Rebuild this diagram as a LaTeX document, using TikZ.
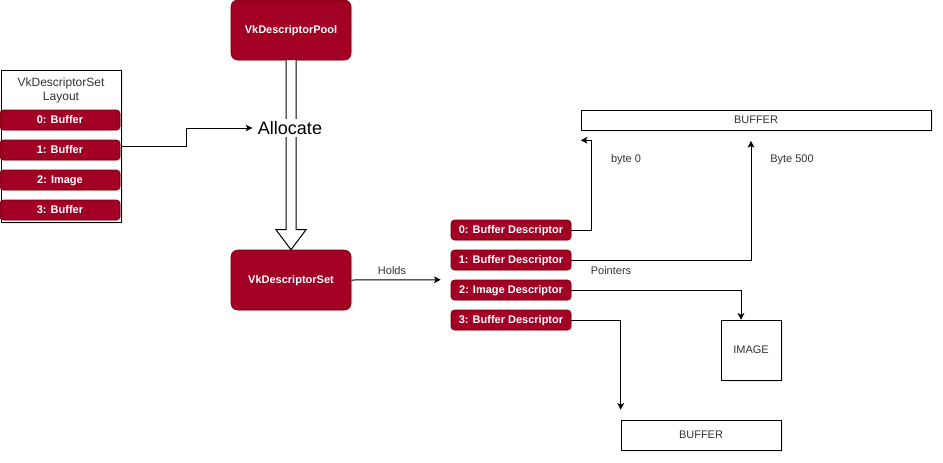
\documentclass[tikz,border=0pt]{standalone}
\usepackage{fontspec}
\setmainfont{Liberation Sans}
\usepackage{tikz}
\usetikzlibrary{positioning, arrows.meta, shadows}
\definecolor{vkred}{HTML}{A20025}
\definecolor{vkdark}{HTML}{6F0000}
\definecolor{labelgray}{HTML}{333333}
\tikzstyle{vkobj} = [rectangle, rounded corners=5pt, minimum width=90pt, minimum height=45pt, text height=5.9pt, text depth=0pt, text centered, draw=vkdark, fill=vkred, text=white, font=\fontsize{8.25pt}{9.9pt}\selectfont\bfseries, drop shadow={shadow xshift=1.2pt, shadow yshift=-1.2pt, opacity=0.15}]
\tikzstyle{slot} = [rectangle, rounded corners=2.5pt, minimum width=90pt, minimum height=15pt, inner sep=0pt, text height=5.9pt, text depth=0pt, text centered, draw=vkdark, fill=vkred, text=white, font=\fontsize{8.25pt}{9.9pt}\selectfont\bfseries, drop shadow={shadow xshift=1.2pt, shadow yshift=-1.2pt, opacity=0.15}]
\tikzstyle{plain} = [rectangle, inner sep=0pt, text height=5.9pt, text depth=0pt, text centered, draw=black, fill=white, text=labelgray, font=\fontsize{8.25pt}{9.9pt}\selectfont, drop shadow={shadow xshift=1.2pt, shadow yshift=-1.2pt, opacity=0.15}]
\tikzstyle{lbl} = [text=labelgray, font=\fontsize{8.25pt}{9.9pt}\selectfont]
\tikzstyle{line} = [line width=0.75pt, -{Stealth[length=5pt, width=5pt, inset=1.2pt]}]

\begin{document}
\begin{tikzpicture}[x=0.75pt, y=-0.75pt, node distance=22.5pt]
\useasboundingbox (0,0) rectangle (943,462);
% layout on the left
\node (layout) [plain, minimum width=90pt, minimum height=114pt] at (61,146) {};
\node (title) [lbl, align=center, font=\fontsize{9pt}{10.5pt}\selectfont] at (61,90) {VkDescriptorSet\\Layout};
\node (b0) [slot] at (60,120) {0: Buffer};
\node (b1) [slot, below of=b0] {1: Buffer};
\node (b2) [slot, below of=b1] {2: Image};
\node (b3) [slot, below of=b2] {3: Buffer};
% pool and set
\node (pool) [vkobj] at (291,30) {VkDescriptorPool};
\node (set) [vkobj] at (291,280) {VkDescriptorSet};
\draw [line width=0.75pt, fill=white] ([xshift=-3.75pt]pool.south) -- ([xshift=-3.75pt, yshift=15pt]set.north) -- ([xshift=-11.25pt, yshift=15pt]set.north) -- (set.north) -- ([xshift=11.25pt, yshift=15pt]set.north) -- ([xshift=3.75pt, yshift=15pt]set.north) -- ([xshift=3.75pt]pool.south);
\node (alloc) [fill=white, inner sep=2pt, font=\fontsize{13.5pt}{16pt}\selectfont] at (290,128) {Allocate};
\draw [line, shorten >=2pt] (layout.east) -- ++(48.75pt,0) |- (alloc.west);
% descriptors
\node (d0) [slot] at (511,230) {0: Buffer Descriptor};
\node (d1) [slot, below of=d0] {1: Buffer Descriptor};
\node (d2) [slot, below of=d1] {2: Image Descriptor};
\node (d3) [slot, below of=d2] {3: Buffer Descriptor};
\coordinate [left=7.5pt of d2.north west] (holds);
\draw [line] (set.east) -- node[lbl, above, xshift=-3pt] {Holds} (holds);
% targets
\node (buftop) [plain, minimum width=262.5pt, minimum height=15pt] at (756,120) {BUFFER};
\node (image) [plain, minimum width=45pt, minimum height=45pt] at (751,350) {IMAGE};
\node (bufbot) [plain, minimum width=120pt, minimum height=22.5pt] at (701,435) {BUFFER};
\draw [line] (d0.east) -- ++(15pt,0) |- ([yshift=-7.5pt]buftop.south west);
\draw [line] (d1.east) -| ([xshift=-3.75pt, yshift=-8pt]buftop.south);
\draw [line] (d2.east) -| ([xshift=-7.5pt]image.north);
\draw [line] (d3.east) -| ([yshift=7.5pt]bufbot.north west);
\node (byte0) [lbl] at (626,160) {byte 0};
\node (byte500) [lbl] at (792,160) {Byte 500};
\node (ptrs) [lbl] at (611,271) {Pointers};
\end{tikzpicture}
\end{document}
